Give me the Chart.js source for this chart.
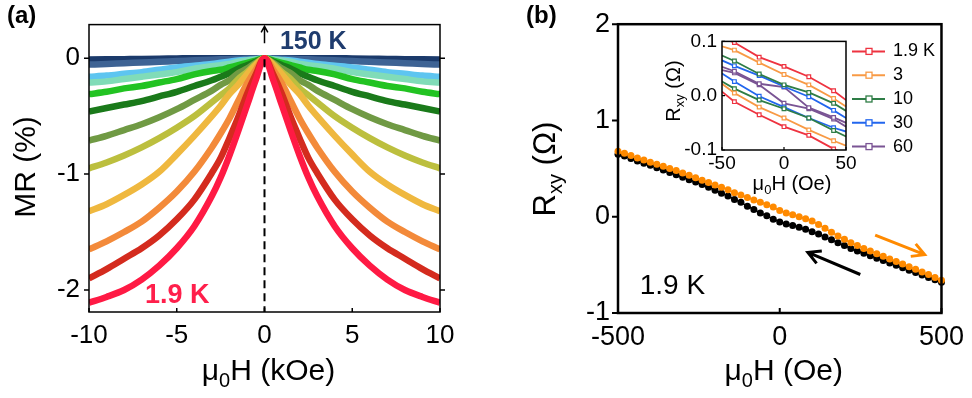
<!DOCTYPE html>
<html lang="en">
<head>
<meta charset="UTF-8">
<title>MR and Hall resistance</title>
<script src="https://cdn.jsdelivr.net/npm/chart.js@4"></script>
<style>
  body { margin: 0; background: #fff; }
  #wrap { position: relative; width: 972px; height: 398px; }
  canvas { position: absolute; }
  #mrChart { left: 0; top: 0; }
  #hallChart { left: 480px; top: 0; }
  #insetChart { left: 650px; top: 25px; }
</style>
</head>
<body>
<div id="wrap">
  <canvas id="mrChart" width="480" height="398"></canvas>
  <canvas id="hallChart" width="492" height="398"></canvas>
  <canvas id="insetChart" width="322" height="175"></canvas>
</div>
<script>
// ---- (a) MR vs field, 1.9 K (bottom) ... 150 K (top)
const fieldKOe = [-10, -9, -8, -7, -6, -5, -4, -3, -2.5, -2, -1.5, -1, -0.5, 0, 0.5, 1, 1.5, 2, 2.5, 3, 4, 5, 6, 7, 8, 9, 10];
const mr1p9K = [-2.11, -2.06, -2.00, -1.91, -1.79, -1.64, -1.45, -1.19, -1.03, -0.84, -0.63, -0.41, -0.19, 0, -0.19, -0.41, -0.63, -0.84, -1.03, -1.19, -1.45, -1.64, -1.79, -1.91, -2.00, -2.06, -2.11];
const mrT2 = [-1.90, -1.82, -1.73, -1.64, -1.53, -1.39, -1.22, -0.99, -0.86, -0.69, -0.51, -0.31, -0.14, 0, -0.14, -0.31, -0.51, -0.69, -0.86, -0.99, -1.22, -1.39, -1.53, -1.64, -1.73, -1.82, -1.90];
const mrT3 = [-1.65, -1.58, -1.50, -1.41, -1.29, -1.15, -0.98, -0.77, -0.65, -0.52, -0.37, -0.22, -0.10, 0, -0.10, -0.22, -0.37, -0.52, -0.65, -0.77, -0.98, -1.15, -1.29, -1.41, -1.50, -1.58, -1.65];
const mrT4 = [-1.32, -1.26, -1.18, -1.09, -0.98, -0.83, -0.67, -0.50, -0.41, -0.31, -0.23, -0.14, -0.06, 0, -0.06, -0.14, -0.23, -0.31, -0.41, -0.50, -0.67, -0.83, -0.98, -1.09, -1.18, -1.26, -1.32];
const mrT5 = [-0.95, -0.90, -0.84, -0.77, -0.69, -0.60, -0.50, -0.38, -0.32, -0.26, -0.18, -0.12, -0.05, 0, -0.05, -0.12, -0.18, -0.26, -0.32, -0.38, -0.50, -0.60, -0.69, -0.77, -0.84, -0.90, -0.95];
const mrT6 = [-0.71, -0.67, -0.62, -0.57, -0.51, -0.44, -0.36, -0.28, -0.23, -0.19, -0.13, -0.09, -0.04, 0, -0.04, -0.09, -0.13, -0.19, -0.23, -0.28, -0.36, -0.44, -0.51, -0.57, -0.62, -0.67, -0.71];
const mrT7 = [-0.46, -0.43, -0.40, -0.37, -0.33, -0.29, -0.24, -0.19, -0.16, -0.13, -0.09, -0.06, -0.03, 0, -0.03, -0.06, -0.09, -0.13, -0.16, -0.19, -0.24, -0.29, -0.33, -0.37, -0.40, -0.43, -0.46];
const mrT8 = [-0.31, -0.29, -0.26, -0.24, -0.21, -0.18, -0.14, -0.11, -0.10, -0.08, -0.06, -0.04, -0.02, 0, -0.02, -0.04, -0.06, -0.08, -0.10, -0.11, -0.14, -0.18, -0.21, -0.24, -0.26, -0.29, -0.31];
const mrT9 = [-0.21, -0.20, -0.18, -0.16, -0.14, -0.12, -0.09, -0.07, -0.06, -0.05, -0.03, -0.02, -0.01, 0, -0.01, -0.02, -0.03, -0.05, -0.06, -0.07, -0.09, -0.12, -0.14, -0.16, -0.18, -0.20, -0.21];
const mrT10 = [-0.16, -0.15, -0.135, -0.12, -0.10, -0.08, -0.065, -0.05, -0.04, -0.03, -0.02, -0.015, -0.01, 0, -0.01, -0.015, -0.02, -0.03, -0.04, -0.05, -0.065, -0.08, -0.10, -0.12, -0.135, -0.15, -0.16];
const mrT11 = [-0.055, -0.05, -0.043, -0.037, -0.03, -0.025, -0.018, -0.013, -0.01, -0.008, -0.005, -0.003, 0, 0, 0, -0.003, -0.005, -0.008, -0.01, -0.013, -0.018, -0.025, -0.03, -0.037, -0.043, -0.05, -0.055];
const mr150K = [-0.012, -0.01, -0.008, -0.006, -0.004, -0.002, 0, 0, 0, 0, 0, 0, 0, 0, 0, 0, 0, 0, 0, 0, 0, -0.002, -0.004, -0.006, -0.008, -0.01, -0.012];
const mrSeries = [mr1p9K, mrT2, mrT3, mrT4, mrT5, mrT6, mrT7, mrT8, mrT9, mrT10, mrT11, mr150K];
const mrColors = ['#ff1a44', '#d42b1e', '#f38a3a', '#efb83f', '#bcbf3e', '#709a44',
                  '#1a7a1a', '#22c322', '#80dcb8', '#5ec5f0', '#3e6394', '#1b3a6b'];
const mrTicksY = [-2, -1, 0];

// ---- (b) Hall resistance at 1.9 K, field sweep up (orange) and down (black)
const hallField = [-500, -480, -460, -440, -420, -400, -380, -360, -340, -320, -300, -280, -260, -240, -220, -200,
  -180, -160, -140, -120, -100, -80, -60, -40, -20, 0, 20, 40, 60, 80, 100, 120, 140, 160, 180, 200,
  220, 240, 260, 280, 300, 320, 340, 360, 380, 400, 420, 440, 460, 480, 500];
const rxyUp = [0.68, 0.66, 0.635, 0.61, 0.59, 0.565, 0.545, 0.525, 0.50, 0.48, 0.455, 0.43, 0.405, 0.38, 0.355, 0.33,
  0.305, 0.28, 0.25, 0.225, 0.20, 0.175, 0.15, 0.125, 0.10, 0.065, 0.04, 0.02, 0.00, -0.02, -0.045, -0.08, -0.12, -0.16, -0.20, -0.235,
  -0.27, -0.30, -0.33, -0.355, -0.385, -0.41, -0.44, -0.465, -0.49, -0.52, -0.545, -0.575, -0.60, -0.63, -0.66];
const rxyDown = [0.65, 0.63, 0.605, 0.58, 0.555, 0.535, 0.51, 0.485, 0.46, 0.435, 0.41, 0.385, 0.36, 0.335, 0.305, 0.275,
  0.245, 0.215, 0.18, 0.15, 0.11, 0.075, 0.04, 0.01, -0.025, -0.055, -0.075, -0.09, -0.11, -0.13, -0.155, -0.18, -0.21, -0.24, -0.27, -0.30,
  -0.33, -0.355, -0.38, -0.405, -0.43, -0.455, -0.48, -0.505, -0.53, -0.555, -0.58, -0.605, -0.63, -0.655, -0.68];

// ---- inset: hysteresis loops, two branches per temperature
const insetField = [-50, -40, -20, 0, 20, 40, 50];
const loop1p9Upper = [0.106, 0.098, 0.071, 0.054, 0.035, 0.009, -0.008];
const loop1p9Lower = [0.0075, -0.011, -0.035, -0.057, -0.073, -0.098, -0.108];
const loop3Upper = [0.091, 0.084, 0.061, 0.039, 0.020, -0.005, -0.020];
const loop3Lower = [0.022, 0.005, -0.021, -0.041, -0.063, -0.083, -0.092];
const loop10Upper = [0.074, 0.064, 0.040, 0.020, 0.006, -0.014, -0.028];
const loop10Lower = [0.026, 0.013, -0.008, -0.024, -0.041, -0.064, -0.075];
const loop30Upper = [0.065, 0.055, 0.037, 0.017, -0.002, -0.027, -0.041];
const loop30Lower = [0.041, 0.026, -0.001, -0.021, -0.041, -0.059, -0.066];
const loop60Upper = [0.053, 0.045, 0.022, 0.016, -0.022, -0.040, -0.050];
const loop60Lower = [0.047, 0.042, 0.020, -0.014, -0.024, -0.043, -0.057];
const insetLabels = ['1.9 K', '3', '10', '30', '60'];
const insetColors = ['#ee3340', '#f89a45', '#2e7d46', '#2266ee', '#7a5494'];
const insetLoops = [[loop1p9Upper, loop1p9Lower], [loop3Upper, loop3Lower], [loop10Upper, loop10Lower],
                    [loop30Upper, loop30Lower], [loop60Upper, loop60Lower]];

const FONT = '"Liberation Sans", Arial, sans-serif';
Chart.defaults.font.family = FONT;
Chart.defaults.color = '#000';
function fnt(size, bold) { return (bold ? 'bold ' : '') + size + 'px ' + FONT; }
function pts(xs, ys) { return ys.map((v, i) => ({ x: xs[i], y: v })); }
const noGrid = { display: false, drawTicks: false };

// text with subscripts, centred on (x, y baseline), optionally rotated
function drawRich(ctx, parts, x, y, size, rotate) {
  const sub = Math.round(size * 0.66);
  ctx.save();
  ctx.translate(x, y);
  if (rotate) ctx.rotate(-Math.PI / 2);
  ctx.fillStyle = '#000';
  ctx.textAlign = 'left';
  ctx.textBaseline = 'alphabetic';
  let total = 0;
  parts.forEach(p => { ctx.font = fnt(p[1] ? sub : size); total += ctx.measureText(p[0]).width; });
  let cx = -total / 2;
  parts.forEach(p => {
    ctx.font = fnt(p[1] ? sub : size);
    ctx.fillText(p[0], cx, p[1] ? size * 0.22 : 0);
    cx += ctx.measureText(p[0]).width;
  });
  ctx.restore();
}

function frame(chart, lw) {
  const { ctx, chartArea: a } = chart;
  ctx.save();
  ctx.strokeStyle = '#000';
  ctx.lineWidth = lw;
  ctx.strokeRect(a.left, a.top, a.right - a.left, a.bottom - a.top);
  ctx.restore();
}

// len > 0 draws outward, len < 0 inward
function tickMarks(chart, side, len, lw) {
  const { ctx, chartArea: a, scales } = chart;
  const sc = side === 'bottom' ? scales.x : scales.y;
  ctx.save();
  ctx.strokeStyle = '#000';
  ctx.lineWidth = lw;
  ctx.beginPath();
  sc.ticks.forEach(t => {
    const p = sc.getPixelForValue(t.value);
    if (side === 'left') { ctx.moveTo(a.left, p); ctx.lineTo(a.left - len, p); }
    if (side === 'right') { ctx.moveTo(a.right, p); ctx.lineTo(a.right + len, p); }
    if (side === 'bottom') { ctx.moveTo(p, a.bottom); ctx.lineTo(p, a.bottom + len); }
  });
  ctx.stroke();
  ctx.restore();
}

function arrow(ctx, x0, y0, x1, y1, color, lw, head) {
  const ang = Math.atan2(y1 - y0, x1 - x0);
  ctx.save();
  ctx.strokeStyle = color;
  ctx.lineWidth = lw;
  ctx.beginPath();
  ctx.moveTo(x0, y0); ctx.lineTo(x1, y1);
  ctx.moveTo(x1 - head * Math.cos(ang - 0.5), y1 - head * Math.sin(ang - 0.5));
  ctx.lineTo(x1, y1);
  ctx.lineTo(x1 - head * Math.cos(ang + 0.5), y1 - head * Math.sin(ang + 0.5));
  ctx.stroke();
  ctx.restore();
}

const noAnim = { animation: false, responsive: false, devicePixelRatio: 1, events: [] };
const hidden = { legend: { display: false }, tooltip: { enabled: false } };

// ================= (a)
new Chart(document.getElementById('mrChart'), {
  type: 'line',
  data: {
    datasets: mrSeries.map((s, i) => ({
      data: pts(fieldKOe, s),
      borderColor: mrColors[i],
      borderWidth: 6.5,
      pointRadius: 0,
      cubicInterpolationMode: 'monotone',
      borderJoinStyle: 'round',
      clip: 0
    }))
  },
  options: {
    ...noAnim,
    layout: { autoPadding: false, padding: { left: 0, right: 40, top: 13, bottom: 0 } },
    plugins: hidden,
    scales: {
      x: {
        type: 'linear', min: -10, max: 10,
        ticks: { stepSize: 5, font: { size: 26 }, padding: 8, maxRotation: 0 },
        grid: noGrid, border: { display: false },
        afterFit: s => { s.height = 86; }
      },
      y: {
        type: 'linear', min: -2.19, max: 0.29,
        afterBuildTicks: s => { s.ticks = mrTicksY.map(v => ({ value: v })); },
        ticks: { font: { size: 26 }, padding: 9 },
        grid: noGrid, border: { display: false },
        afterFit: s => { s.width = 89; }
      }
    }
  },
  plugins: [{
    id: 'mrDecor',
    afterDatasetsDraw(chart) {
      const { ctx, chartArea: a, scales: { x, y } } = chart;
      const x0 = x.getPixelForValue(0);
      ctx.save();
      ctx.strokeStyle = '#000';
      ctx.lineWidth = 2;
      ctx.setLineDash([8, 5]);
      ctx.beginPath();
      ctx.moveTo(x0, y.getPixelForValue(-0.01));
      ctx.lineTo(x0, a.bottom);
      ctx.stroke();
      ctx.restore();
      arrow(ctx, x0, y.getPixelForValue(0.13), x0, y.getPixelForValue(0.275), '#000', 1.5, 7);
      ctx.save();
      ctx.textBaseline = 'alphabetic';
      ctx.textAlign = 'left';
      ctx.font = fnt(25, true);
      ctx.fillStyle = '#1f3c6e';
      ctx.fillText('150 K', x.getPixelForValue(0.88), y.getPixelForValue(0.083));
      ctx.font = fnt(27, true);
      ctx.fillStyle = '#ff1f4b';
      ctx.fillText('1.9 K', x.getPixelForValue(-6.81), y.getPixelForValue(-2.11));
      ctx.restore();
    },
    afterDraw(chart) {
      const { ctx, chartArea: a } = chart;
      frame(chart, 1.5);
      tickMarks(chart, 'left', 5, 1.5);
      tickMarks(chart, 'right', 5, 1.5);
      tickMarks(chart, 'bottom', -4, 1.5);
      drawRich(ctx, [['μ', 0], ['0', 1], ['H (kOe)', 0]], (a.left + a.right) / 2 + 4, 380, 30);
      drawRich(ctx, [['MR (%)', 0]], 35, 167, 30, true);
      ctx.save();
      ctx.font = fnt(24, true);
      ctx.fillStyle = '#000';
      ctx.fillText('(a)', 7, 23);
      ctx.restore();
    }
  }]
});

// ================= (b)
new Chart(document.getElementById('hallChart'), {
  type: 'line',
  data: {
    datasets: [
      { data: pts(hallField, rxyUp), borderColor: '#ff8a00', backgroundColor: '#ff8a00',
        borderWidth: 1.5, pointRadius: 3.5, pointBorderWidth: 0, clip: 4 },
      { data: pts(hallField, rxyDown), borderColor: '#000', backgroundColor: '#000',
        borderWidth: 1.5, pointRadius: 3.5, pointBorderWidth: 0, clip: 4 }
    ]
  },
  options: {
    ...noAnim,
    layout: { autoPadding: false, padding: { left: 0, right: 27, top: 15, bottom: 0 } },
    plugins: hidden,
    scales: {
      x: {
        type: 'linear', min: -500, max: 500,
        ticks: { stepSize: 500, font: { size: 27 }, padding: 8, maxRotation: 0 },
        grid: noGrid, border: { display: false },
        afterFit: s => { s.height = 85; }
      },
      y: {
        type: 'linear', min: -1, max: 2,
        ticks: { stepSize: 1, font: { size: 27 }, padding: 8 },
        grid: noGrid, border: { display: false },
        afterFit: s => { s.width = 138; }
      }
    }
  },
  plugins: [{
    id: 'hallDecor',
    afterDraw(chart) {
      const { ctx, chartArea: a, scales: { x, y } } = chart;
      frame(chart, 2.5);
      tickMarks(chart, 'left', 6, 2);
      tickMarks(chart, 'bottom', -5, 2);
      arrow(ctx, x.getPixelForValue(295), y.getPixelForValue(-0.19), x.getPixelForValue(448), y.getPixelForValue(-0.394), '#ff8a00', 3, 14);
      arrow(ctx, x.getPixelForValue(249), y.getPixelForValue(-0.60), x.getPixelForValue(87), y.getPixelForValue(-0.37), '#000', 3, 14);
      ctx.save();
      ctx.font = fnt(28);
      ctx.fillStyle = '#000';
      ctx.textAlign = 'left';
      ctx.fillText('1.9 K', x.getPixelForValue(-433), y.getPixelForValue(-0.80));
      ctx.font = fnt(24, true);
      ctx.fillText('(b)', 46, 23);
      ctx.restore();
      drawRich(ctx, [['μ', 0], ['0', 1], ['H (Oe)', 0]], (a.left + a.right) / 2 + 4, 380, 30);
      drawRich(ctx, [['R', 0], ['xy', 1], [' (Ω)', 0]], 75, 169, 31, true);
    }
  }]
});

// ================= inset
const insetSets = [];
insetLoops.forEach((pair, i) => {
  pair.forEach(branch => {
    insetSets.push({
      data: pts(insetField, branch),
      borderColor: insetColors[i],
      backgroundColor: '#fff',
      borderWidth: 1.8,
      pointStyle: 'rect',
      pointRadius: c => (Math.abs(insetField[c.dataIndex]) === 50 ? 0 : 2.6),
      pointBorderWidth: 1.2,
      pointBorderColor: insetColors[i],
      clip: 0
    });
  });
});

new Chart(document.getElementById('insetChart'), {
  type: 'line',
  data: { datasets: insetSets },
  options: {
    ...noAnim,
    layout: { autoPadding: false, padding: { left: 0, right: 126, top: 9, bottom: 0 } },
    plugins: hidden,
    scales: {
      x: {
        type: 'linear', min: -50, max: 50,
        ticks: { stepSize: 50, font: { size: 19 }, padding: 2, maxRotation: 0 },
        grid: noGrid, border: { display: false },
        afterFit: s => { s.height = 50; }
      },
      y: {
        type: 'linear', min: -0.1, max: 0.1,
        ticks: { stepSize: 0.1, font: { size: 19 }, padding: 5, callback: v => v.toFixed(1) },
        grid: noGrid, border: { display: false },
        afterFit: s => { s.width = 72; }
      }
    }
  },
  plugins: [{
    id: 'insetDecor',
    beforeDatasetsDraw(chart) {
      const { ctx, chartArea: a } = chart;
      ctx.save();
      ctx.fillStyle = '#fff';
      ctx.fillRect(a.left, a.top, a.right - a.left, a.bottom - a.top);
      ctx.restore();
    },
    afterDraw(chart) {
      const { ctx, chartArea: a } = chart;
      frame(chart, 1.5);
      tickMarks(chart, 'left', -3, 1.2);
      tickMarks(chart, 'bottom', -3, 1.2);
      drawRich(ctx, [['μ', 0], ['0', 1], ['H (Oe)', 0]], (a.left + a.right) / 2 + 8, 165, 20);
      drawRich(ctx, [['R', 0], ['xy', 1], [' (Ω)', 0]], 30, 66, 20, true);
      ctx.save();
      insetLabels.forEach((lab, i) => {
        const yy = a.top + 10 + i * 23.8;
        ctx.strokeStyle = insetColors[i];
        ctx.lineWidth = 2;
        ctx.beginPath();
        ctx.moveTo(a.right + 6, yy);
        ctx.lineTo(a.right + 39, yy);
        ctx.stroke();
        ctx.fillStyle = '#fff';
        ctx.lineWidth = 1.3;
        ctx.fillRect(a.right + 20, yy - 3, 6, 6);
        ctx.strokeRect(a.right + 20, yy - 3, 6, 6);
        ctx.fillStyle = '#000';
        ctx.font = fnt(18);
        ctx.textBaseline = 'middle';
        ctx.fillText(lab, a.right + 47, yy);
      });
      ctx.restore();
    }
  }]
});
</script>
</body>
</html>
